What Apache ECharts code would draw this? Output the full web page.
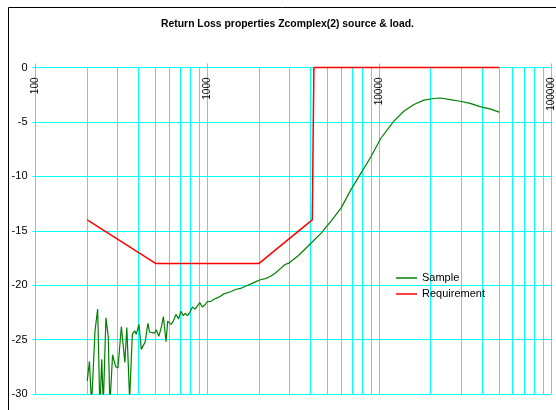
<!DOCTYPE html>
<html>
<head>
<meta charset="utf-8">
<script src="https://cdn.jsdelivr.net/npm/echarts@6/dist/echarts.min.js"></script>
<style>
html,body{margin:0;padding:0;background:#fff;}
#c{width:556px;height:410px;}
</style>
</head>
<body>
<div id="c"></div>
<script>
// Frequencies (Hz) and return loss (dB) of the measured sample
var sampleFreq = [200,206,212,222,230,237,243,248,257,265,271,281,293,302,316,331,340,353,366,378,386,400,413,435,451,461,493,504,522,539,555,575,588,615,634,657,680,702,724,744,767,791,819,849,876,904,936,970,1000,1046,1093,1168,1249,1365,1458,1558,1666,1780,1902,2033,2173,2322,2481,2652,2834,2961,3382,4036,4609,5264,6012,6866,7842,8956,10230,12220,13960,15940,18200,20790,22700,25930,29610,33820,38620,44110,50000];
var sampleDb = [-28.8,-27.0,-31.0,-24.2,-22.2,-31.5,-26.8,-31.0,-23.0,-24.7,-31.0,-26.4,-27.5,-27.6,-23.8,-27.1,-23.9,-30.5,-24.5,-24.2,-24.5,-23.6,-25.9,-25.2,-23.5,-24.3,-24.4,-24.1,-24.7,-23.9,-22.9,-25.2,-23.3,-23.6,-23.3,-22.7,-23.1,-22.4,-22.8,-22.6,-22.8,-22.5,-22.0,-22.2,-21.9,-21.6,-22.0,-21.8,-21.5,-21.5,-21.3,-21.1,-20.8,-20.6,-20.4,-20.3,-20.1,-19.9,-19.7,-19.5,-19.4,-19.2,-18.9,-18.5,-18.1,-18.0,-17.3,-16.1,-15.2,-14.1,-12.9,-11.2,-9.7,-8.2,-6.5,-4.9,-4.0,-3.4,-3.0,-2.85,-2.8,-2.95,-3.1,-3.3,-3.6,-3.8,-4.1];
// Requirement mask
var reqFreq = [200,500,2000,4080,4170,50000];
var reqDb = [-14,-18,-18,-14,0,0];
// Axis ticks
var xMajorTicks = [100,1000,10000,100000];
var yTicks = [-30,-25,-20,-15,-10,-5,0];
var titleText = 'Return Loss properties Zcomplex(2) source & load.';
var seriesNames = ['Sample','Requirement'];
var seriesColors = ['#008000','#ff0000'];

// minor log gridlines 2..9 within each decade
var minorGrid = [];
for (var d = 0; d < xMajorTicks.length - 1; d++) {
  for (var m = 2; m <= 9; m++) minorGrid.push([xMajorTicks[d] * m, 0]);
}
function pairs(xs, ys){ return xs.map(function(x,i){ return [x, ys[i]]; }); }

var FONT = "'Liberation Sans', Arial, sans-serif";
var CY = '#00ffff';
var chart = echarts.init(document.getElementById('c'), null, {renderer:'canvas'});
chart.setOption({
  animation:false,
  backgroundColor:'#ffffff',
  title:{
    text:titleText, left:161, top:19, padding:0,
    textStyle:{fontFamily:FONT, fontSize:10.4, fontWeight:'bold', color:'#000'}
  },
  graphic:[{
    type:'rect', shape:{x:8.5, y:7.5, width:620, height:500},
    style:{fill:'none', stroke:'#000', lineWidth:1}, silent:true, z:-1
  }],
  legend:{
    data:seriesNames.map(function(n,i){
      return {name:n, icon:'path://M0,0H21V1.5H0Z', itemStyle:{color:seriesColors[i]}};
    }),
    orient:'vertical', left:396, top:271,
    itemWidth:21, itemHeight:14, itemGap:2, padding:0,
    textStyle:{fontFamily:FONT, fontSize:11, color:'#000', lineHeight:14}
  },
  grid:{left:35.5, right:0.5, top:67.5, bottom:16, containLabel:false},
  xAxis:{
    type:'log', logBase:10, min:100, max:100000, position:'top',
    axisLine:{show:false},
    axisTick:{show:true, inside:false, length:4, lineStyle:{color:CY}},
    axisLabel:{inside:true, rotate:90, margin:10, fontSize:10, color:'#000', fontFamily:FONT,
      formatter:function(v){ return String(Math.round(v)); }},
    splitLine:{show:true, lineStyle:{color:CY, width:1}}
  },
  yAxis:{
    type:'value', min:-30, max:0, interval:5,
    axisLine:{show:false},
    axisTick:{show:true, length:3, lineStyle:{color:CY}},
    axisLabel:{fontSize:11, color:'#000', fontFamily:FONT, margin:8},
    splitLine:{show:true, lineStyle:{color:CY, width:1}}
  },
  series:[
    {
      name:'_minorGrid', type:'custom', data:minorGrid, z:1, silent:true,
      encode:{x:0, y:1}, clip:false,
      renderItem:function(params, api){
        var p = api.coord([api.value(0), api.value(1)]);
        var cs = params.coordSys;
        var x = Math.floor(p[0]) + 0.5;
        return {type:'line', silent:true,
          shape:{x1:x, y1:cs.y, x2:x, y2:cs.y + cs.height},
          style:{stroke:CY, lineWidth:1}};
      }
    },
    {
      name:seriesNames[0], type:'line', data:pairs(sampleFreq, sampleDb), z:3,
      symbol:'none', showSymbol:false, color:seriesColors[0],
      lineStyle:{color:seriesColors[0], width:1.2}
    },
    {
      name:seriesNames[1], type:'line', data:pairs(reqFreq, reqDb), z:3, clip:false,
      symbol:'none', showSymbol:false, color:seriesColors[1],
      lineStyle:{color:seriesColors[1], width:1.5}
    }
  ]
});
</script>
</body>
</html>
